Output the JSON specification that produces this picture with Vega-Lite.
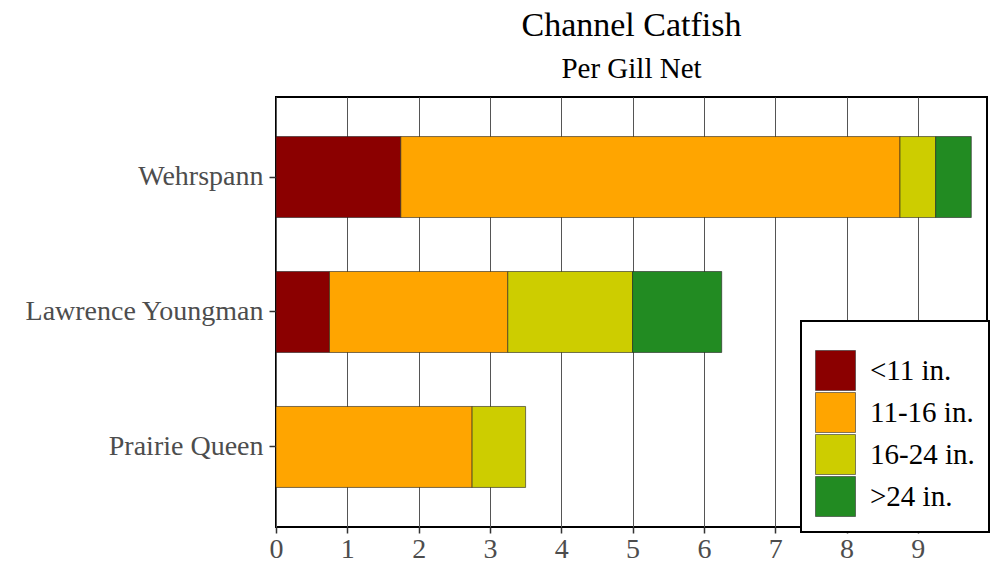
{
  "$schema": "https://vega.github.io/schema/vega-lite/v6.json",
  "width": 711,
  "height": 430,
  "autosize": {"type": "none"},
  "padding": {"left": 276, "top": 97, "right": 9, "bottom": 36},
  "background": "white",
  "title": {
    "text": "Channel Catfish",
    "subtitle": "Per Gill Net",
    "font": "Liberation Serif",
    "fontSize": 34,
    "fontWeight": "normal",
    "color": "black",
    "subtitleFont": "Liberation Serif",
    "subtitleFontSize": 29,
    "subtitleColor": "black",
    "subtitlePadding": 12,
    "anchor": "middle",
    "frame": "group",
    "offset": 13
  },
  "data": {
    "values": [
      {"lake": "Wehrspann", "size": "<11 in.", "ord": 1, "value": 1.75},
      {"lake": "Wehrspann", "size": "11-16 in.", "ord": 2, "value": 7.0},
      {"lake": "Wehrspann", "size": "16-24 in.", "ord": 3, "value": 0.5},
      {"lake": "Wehrspann", "size": ">24 in.", "ord": 4, "value": 0.5},
      {"lake": "Lawrence Youngman", "size": "<11 in.", "ord": 1, "value": 0.75},
      {"lake": "Lawrence Youngman", "size": "11-16 in.", "ord": 2, "value": 2.5},
      {"lake": "Lawrence Youngman", "size": "16-24 in.", "ord": 3, "value": 1.75},
      {"lake": "Lawrence Youngman", "size": ">24 in.", "ord": 4, "value": 1.25},
      {"lake": "Prairie Queen", "size": "11-16 in.", "ord": 2, "value": 2.75},
      {"lake": "Prairie Queen", "size": "16-24 in.", "ord": 3, "value": 0.75}
    ]
  },
  "mark": {"type": "bar", "stroke": "#222222", "strokeWidth": 0.6},
  "encoding": {
    "y": {
      "field": "lake",
      "type": "nominal",
      "sort": ["Wehrspann", "Lawrence Youngman", "Prairie Queen"],
      "scale": {"paddingInner": 0.4, "paddingOuter": 0.293},
      "axis": {
        "title": null,
        "labelFont": "Liberation Serif",
        "labelFontSize": 28,
        "labelColor": "#4d4d4d",
        "labelPadding": 6,
        "labelLimit": 300,
        "tickSize": 7,
        "tickColor": "#333333",
        "tickWidth": 1.5,
        "domain": false,
        "grid": false
      }
    },
    "x": {
      "field": "value",
      "type": "quantitative",
      "stack": "zero",
      "scale": {"domain": [0, 9.97], "nice": false, "zero": true},
      "axis": {
        "title": null,
        "values": [0, 1, 2, 3, 4, 5, 6, 7, 8, 9],
        "labelFont": "Liberation Serif",
        "labelFontSize": 28,
        "labelColor": "#4d4d4d",
        "labelPadding": 2,
        "labelFlush": false,
        "tickSize": 6,
        "tickColor": "#333333",
        "tickWidth": 1.5,
        "domain": false,
        "grid": true,
        "gridColor": "#555555",
        "gridWidth": 1
      }
    },
    "color": {
      "field": "size",
      "type": "nominal",
      "scale": {
        "domain": ["<11 in.", "11-16 in.", "16-24 in.", ">24 in."],
        "range": ["#8B0000", "#FFA500", "#CDCD00", "#228B22"]
      },
      "legend": {
        "title": " ",
        "titleFontSize": 12,
        "titlePadding": 3,
        "orient": "none",
        "legendX": 525,
        "legendY": 224,
        "padding": 14,
        "strokeColor": "black",
        "fillColor": "white",
        "symbolType": "square",
        "symbolSize": 1600,
        "symbolStrokeColor": "#333333",
        "symbolStrokeWidth": 0.6,
        "symbolOpacity": 1,
        "rowPadding": -3,
        "labelFont": "Liberation Serif",
        "labelFontSize": 29,
        "labelColor": "black",
        "labelOffset": 14,
        "labelLimit": 250
      }
    },
    "order": {"field": "ord", "type": "quantitative"}
  },
  "config": {
    "view": {"stroke": "black", "strokeWidth": 2},
    "legend": {"strokeWidth": 2}
  }
}
